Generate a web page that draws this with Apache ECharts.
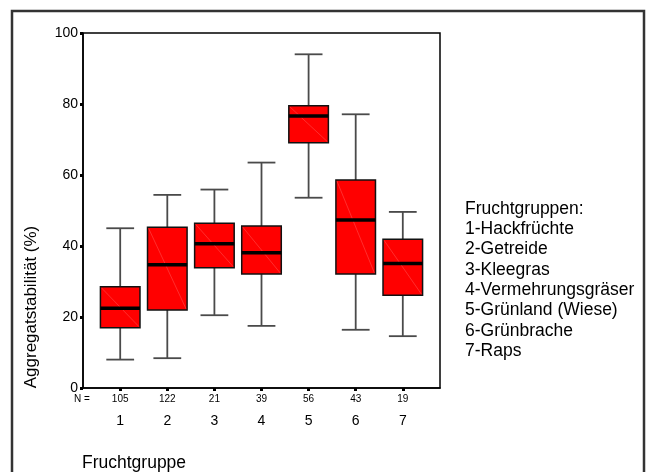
<!DOCTYPE html>
<html>
<head>
<meta charset="utf-8">
<script src="https://cdn.jsdelivr.net/npm/echarts@6.0.0/dist/echarts.min.js"></script>
<style>
  html, body { margin: 0; padding: 0; background: #fff; }
  #chart { width: 647px; height: 472px; }
</style>
</head>
<body>
<div id="chart"></div>
<script>
var gruppen = [1, 2, 3, 4, 5, 6, 7];
var anzahl = [105, 122, 21, 39, 56, 43, 19];
// min, Q1, median, Q3, max
var minimum = [8.0, 8.4, 20.5, 17.5, 53.6, 16.4, 14.6];
var q1 = [17.0, 22.0, 33.9, 32.1, 69.1, 32.1, 26.1];
var median = [22.5, 34.7, 40.6, 38.1, 76.6, 47.3, 35.1];
var q3 = [28.5, 45.3, 46.4, 45.6, 79.5, 58.6, 41.9];
var maximum = [45.0, 54.4, 55.9, 63.5, 94.0, 77.1, 49.6];
var legende = [
    'Fruchtgruppen:',
    '1-Hackfrüchte',
    '2-Getreide',
    '3-Kleegras',
    '4-Vermehrungsgräser',
    '5-Grünland (Wiese)',
    '6-Grünbrache',
    '7-Raps'
];
var yTicks = [0, 20, 40, 60, 80, 100];

var font = '"Liberation Sans", Arial, sans-serif';

var data = gruppen.map(function (g, i) {
    return [g, minimum[i], q1[i], median[i], q3[i], maximum[i]];
});

function renderBox(params, api) {
    var x = api.value(0);
    var pMin = api.coord([x, api.value(1)]);
    var pQ1 = api.coord([x, api.value(2)]);
    var pMed = api.coord([x, api.value(3)]);
    var pQ3 = api.coord([x, api.value(4)]);
    var pMax = api.coord([x, api.value(5)]);
    var boxW = api.size([0.84, 0])[0];
    var capW = api.size([0.59, 0])[0];
    var cx = pMed[0];
    var whisker = { stroke: '#4a4a4a', lineWidth: 1.8 };
    return {
        type: 'group',
        children: [
            { type: 'line', shape: { x1: cx, y1: pMax[1], x2: cx, y2: pQ3[1] }, style: whisker },
            { type: 'line', shape: { x1: cx, y1: pQ1[1], x2: cx, y2: pMin[1] }, style: whisker },
            { type: 'line', shape: { x1: cx - capW / 2, y1: pMax[1], x2: cx + capW / 2, y2: pMax[1] }, style: whisker },
            { type: 'line', shape: { x1: cx - capW / 2, y1: pMin[1], x2: cx + capW / 2, y2: pMin[1] }, style: whisker },
            {
                type: 'rect',
                shape: { x: cx - boxW / 2, y: pQ3[1], width: boxW, height: pQ1[1] - pQ3[1] },
                style: { fill: '#ff0000', stroke: '#111', lineWidth: 1.5 }
            },
            {
                type: 'line',
                shape: { x1: cx - boxW / 2 + 1, y1: pQ3[1] + 1, x2: cx + boxW / 2 - 1, y2: pQ1[1] - 1 },
                style: { stroke: 'rgba(255,150,150,0.6)', lineWidth: 0.5 }
            },
            {
                type: 'line',
                shape: { x1: cx - boxW / 2, y1: pMed[1], x2: cx + boxW / 2, y2: pMed[1] },
                style: { stroke: '#000', lineWidth: 3.5 }
            }
        ]
    };
}

var chart = echarts.init(document.getElementById('chart'));

var graphics = [
    {
        type: 'rect',
        shape: { x: 12, y: 11, width: 632, height: 480 },
        style: { fill: 'none', stroke: '#333', lineWidth: 2.5 },
        silent: true
    },
    {
        type: 'text', x: 31, y: 307, rotation: Math.PI / 2,
        style: { text: 'Aggregatstabilität (%)', font: '17px ' + font, fill: '#000', align: 'center', verticalAlign: 'middle' }
    },
    {
        type: 'text', x: 74, y: 399,
        style: { text: 'N =', font: '10px ' + font, fill: '#000', align: 'left', verticalAlign: 'middle' }
    },
    {
        type: 'text', x: 82, y: 463,
        style: { text: 'Fruchtgruppe', font: '17.5px ' + font, fill: '#000', align: 'left', verticalAlign: 'middle' }
    }
];
legende.forEach(function (t, i) {
    graphics.push({
        type: 'text', x: 465, y: 209 + i * 20.3,
        style: { text: t, font: '17.5px ' + font, fill: '#000', align: 'left', verticalAlign: 'middle' }
    });
});

chart.setOption({
    animation: false,
    backgroundColor: '#fff',
    grid: {
        left: 83, top: 33, width: 357, height: 355,
        show: true, borderColor: '#000', borderWidth: 1.5, backgroundColor: 'transparent'
    },
    xAxis: {
        type: 'value',
        min: 0.21,
        max: 7.79,
        splitLine: { show: false },
        axisLine: { show: true, lineStyle: { color: '#000', width: 1.5 } },
        axisTick: { show: true, customValues: gruppen, length: 3, lineStyle: { color: '#000', width: 3 } },
        axisLabel: {
            customValues: gruppen,
            margin: 4,
            color: '#000',
            fontFamily: font,
            formatter: function (v) {
                var i = gruppen.indexOf(Math.round(v));
                return '{n|' + anzahl[i] + '}\n{c|' + gruppen[i] + '}';
            },
            rich: {
                n: { fontSize: 10, lineHeight: 14, fontFamily: font, color: '#000' },
                c: { fontSize: 14, lineHeight: 30, fontFamily: font, color: '#000' }
            }
        }
    },
    yAxis: {
        type: 'value',
        min: yTicks[0],
        max: yTicks[yTicks.length - 1],
        interval: 20,
        splitLine: { show: false },
        axisLine: { show: true, lineStyle: { color: '#000', width: 1.5 } },
        axisTick: { show: true, length: 3, lineStyle: { color: '#000', width: 3 } },
        axisLabel: { margin: 5, fontSize: 14, color: '#000', fontFamily: font }
    },
    series: [{
        type: 'custom',
        renderItem: renderBox,
        encode: { x: 0, y: [1, 2, 3, 4, 5] },
        data: data,
        clip: false
    }],
    graphic: graphics
});
</script>
</body>
</html>
